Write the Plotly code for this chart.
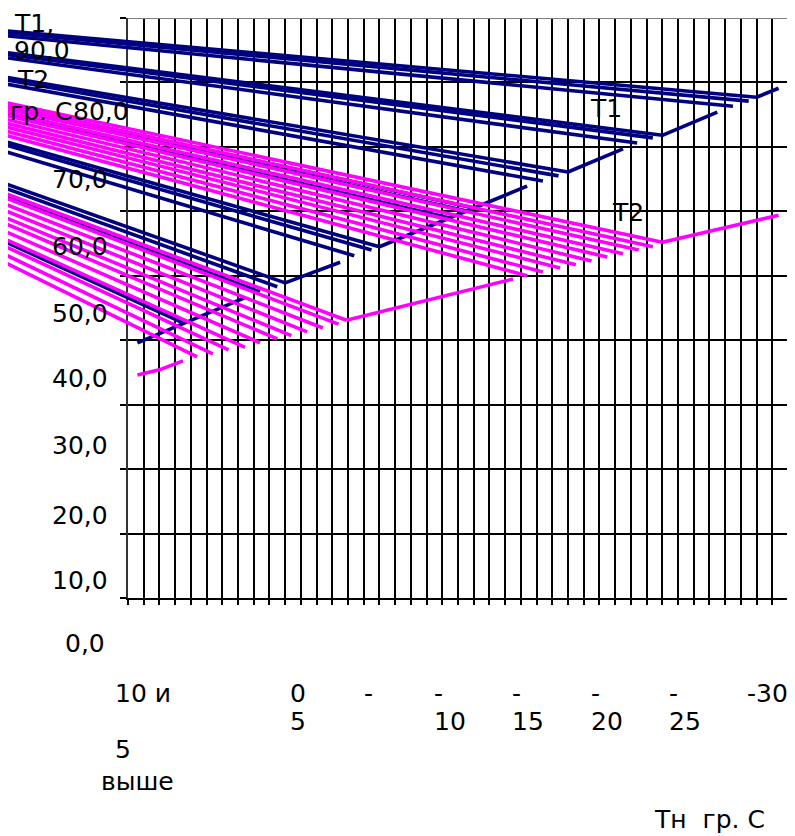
import plotly.graph_objects as go

# The page body adds an 8px margin, so the figure is 8px smaller and all
# screen positions below are shifted by OFF.
OFF = 8
W, H = 795 - OFF, 836 - OFF
NAVY = "#000080"
MAGENTA = "#FF00FF"
FONT = "DejaVu Sans"
FS = 25

# ---------------- data ----------------
# x = outdoor temperature Tn (grad C), y = water temperature T1/T2 (grad C)
tn_ticks = list(range(10, -33, -1))
y_ticks = list(range(0, 100, 10))

# all straight lines of the picture radiate from one common (off-canvas) point
origin_tn = 54.4
origin_val = 95.9

# T1 (navy) families: end points of each line
t1_end_tn = [[-30.0, -29.5, -28.5], [-24.0, -23.4, -22.4], [-18.0, -17.4, -16.4],
             [-12.0, -11.5, -10.4], [-6.0, -5.5, -4.4], [0.0, 0.5, 1.6], [6.5]]
t1_end_val = [[77.7, 77.1, 76.3], [71.8, 71.4, 70.6], [66.1, 65.5, 64.7],
              [60.5, 60.1, 59.0], [54.5, 54.0, 53.1], [48.9, 48.3, 47.5], [42.7]]
# T1 kink segments
t1_kink_tn = [[-30.0, -31.4], [-24.0, -27.5], [-18.0, -21.5], [-6.0, -15.4], [0.0, -3.5], [9.4, 2.55]]
t1_kink_val = [[77.7, 79.1], [71.8, 75.4], [66.1, 69.7], [54.5, 63.9], [48.9, 52.1], [39.6, 46.6]]

# T2 (magenta) families
t2_end_tn = [[-15.4, -16.4, -17.5, -18.5, -19.5, -20.5, -21.5, -22.5, -23.4, -24.0],
             [5.6, 4.6, 3.6, 2.55, 1.6, 0.5, -0.4, -1.4, -2.4, -3.4, -3.9]]
t2_end_val = [[50.0, 50.6, 51.2, 51.7, 52.3, 52.9, 53.4, 54.0, 54.5, 55.2],
              [37.4, 37.9, 38.5, 38.9, 39.6, 40.2, 40.7, 41.3, 41.9, 42.5, 43.1]]
t2_kink_tn = [[-24.0, -31.4], [-3.9, -14.5], [9.4, 8.0, 6.5]]
t2_kink_val = [[55.2, 59.4], [43.1, 49.5], [34.6, 35.4, 36.8]]

y_tick_text = ["0,0", "10,0", "20,0", "30,0", "40,0", "50,0", "60,0", "70,0", "80,0", "90,0"]

# ---------------- geometry (screen pixels of the reference) ----------------
PX_L, PX_R, PX_T, PX_B = 128, 788, 18, 598
px_per_deg = (PX_R - PX_L) / 42.0
x_left_data = 10 + (PX_L - OFF) / px_per_deg  # Tn at the left edge of the figure

fig = go.Figure()

# empty trace so the grid subplot is built
fig.add_trace(go.Scatter(x=[None], y=[None], xaxis="x", yaxis="y", showlegend=False,
                         hoverinfo="skip"))

LW = 3.6


def add_line(xs, ys, color):
    fig.add_trace(go.Scatter(x=xs, y=ys, mode="lines", line=dict(color=color, width=LW),
                             xaxis="x2", yaxis="y2", showlegend=False, hoverinfo="skip"))


for tns, vals in zip(t1_end_tn, t1_end_val):
    for tn, v in zip(tns, vals):
        add_line([origin_tn, tn], [origin_val, v], NAVY)
for tns, vals in zip(t1_kink_tn, t1_kink_val):
    add_line(tns, vals, NAVY)
for tns, vals in zip(t2_end_tn, t2_end_val):
    for tn, v in zip(tns, vals):
        add_line([origin_tn, tn], [origin_val, v], MAGENTA)
for tns, vals in zip(t2_kink_tn, t2_kink_val):
    add_line(tns, vals, MAGENTA)

dom_x = [(PX_L - OFF) / W, (PX_R - OFF) / W]
dom_y = [1 - (PX_B - OFF) / H, 1 - (PX_T - OFF) / H]

fig.update_layout(
    width=W, height=H,
    margin=dict(l=0, r=0, t=0, b=0),
    paper_bgcolor="white", plot_bgcolor="rgba(0,0,0,0)",
    showlegend=False,
    font=dict(family=FONT, size=FS, color="black"),
    xaxis=dict(domain=dom_x, range=[10, -32], tickvals=tn_ticks, showticklabels=False,
               showgrid=True, gridcolor="black", gridwidth=2, zeroline=False,
               showline=True, linecolor="black", linewidth=2,
               ticks="outside", ticklen=5, tickwidth=1.5, tickcolor="black", anchor="y"),
    yaxis=dict(domain=dom_y, range=[0, 90], tickvals=y_ticks, showticklabels=False,
               showgrid=True, gridcolor="black", gridwidth=2, zeroline=False,
               showline=True, linecolor="#333333", linewidth=2,
               ticks="outside", ticklen=6, tickwidth=1.5, tickcolor="black", anchor="x"),
    xaxis2=dict(domain=[0, (PX_R - OFF) / W], range=[x_left_data, -32], visible=False,
                anchor="y2"),
    yaxis2=dict(domain=dom_y, range=[0, 90], visible=False, anchor="x2"),
)

# grey plot-area border (top and right)
fig.add_shape(type="path", xref="x", yref="y",
              path="M 10,90 L -32,90 L -32,0", line=dict(color="#808080", width=2),
              layer="above")


def txt(s, px, cy, anchor="left"):
    """place text; px = screen x of anchor edge, cy = screen y of text centre"""
    fig.add_annotation(text=s, x=(px - OFF) / W, y=1 - (cy - OFF) / H,
                       xref="paper", yref="paper", xanchor=anchor, yanchor="middle",
                       showarrow=False, font=dict(family=FONT, size=FS, color="black"))


# y tick labels (as placed in the reference)
ylab_pos = [(107, 643), (110, 580), (110, 515), (110, 445), (110, 378), (110, 313),
            (110, 247), (110, 179)]
for s, (px, cy) in zip(y_tick_text[:8], ylab_pos):
    txt(s, px, cy, "right")
txt(y_tick_text[8], 71, 111, "left")     # "80,0" right after the title line "гр. С"
txt(y_tick_text[9], 72, 50, "right")     # "90,0"

# axis title (y)
txt("T1,", 12, 24)
txt("T2", 15, 79)
txt("гр. С", 8, 111, "left")

# x labels
txt("10 и", 113, 693)
txt("5", 113, 749)
txt("выше", 99, 781)
txt("0", 288, 693)
txt("5", 288, 721)
txt("-", 362, 693)
for s, px in [("10", 432), ("15", 510), ("20", 589), ("25", 667)]:
    txt("-", px, 693)
    txt(s, px, 721)
txt("-30", 745, 693)
txt("Тн  гр. С", 652, 819)

# series labels
txt("T1", 588, 109)
txt("T2", 610, 212)

fig.write_html("out.html")
